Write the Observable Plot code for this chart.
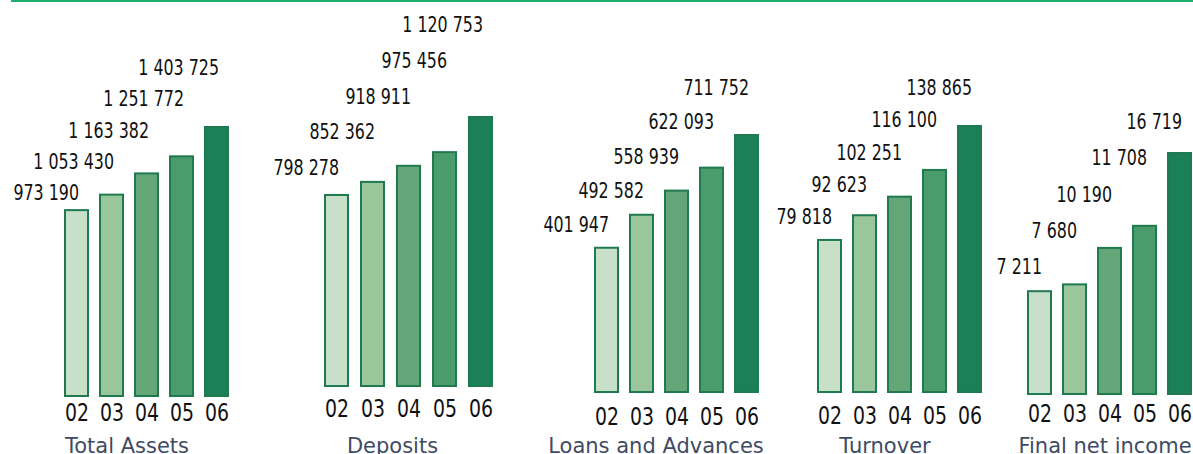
<!DOCTYPE html>
<html><head><meta charset="utf-8">
<script src="https://cdn.jsdelivr.net/npm/d3@7"></script>
<script src="https://cdn.jsdelivr.net/npm/@observablehq/plot@0.6"></script>
<style>
html,body{margin:0;padding:0;background:#fff;overflow:hidden}
#chart{position:relative;width:1193px;height:454px}
#chart svg{position:absolute;left:0;top:0}
#rule{position:absolute;left:11px;top:0;width:1182px;height:2px;background:#1fae6c}
</style></head><body>
<div id="chart"><div id="rule"></div></div>
<script>
const years = ["02","03","04","05","06"];
const titles = ["Total Assets","Deposits","Loans and Advances","Turnover","Final net income"];
const totalAssets = [973190,1053430,1163382,1251772,1403725];
const deposits = [798278,852362,918911,975456,1120753];
const loans = [401947,492582,558939,622093,711752];
const turnover = [79818,92623,102251,116100,138865];
const netIncome = [7211,7680,10190,11708,16719];
const barColors = ["#c8dfc9","#9ac69c","#65a679","#4b9c6c","#1b7f57"];

const series = [totalAssets, deposits, loans, turnover, netIncome];
const layout = [
 {x0:62,x1:231,bottom:397,top:126,lab0:193,lab4:68,tickPad:6,titleDx:-20},
 {x0:324,x1:494,bottom:387,top:116,lab0:168,lab4:25,tickPad:11.5,titleDx:-17},
 {x0:592,x1:761,bottom:393,top:134,lab0:225,lab4:88,tickPad:13.5,titleDx:-21},
 {x0:816,x1:983,bottom:393,top:125,lab0:217,lab4:88,tickPad:13,titleDx:-15},
 {x0:1025,x1:1194,bottom:395,top:152,lab0:267,lab4:122,tickPad:8.5,titleDx:-5}
];
const fmt = d3.formatLocale({decimal:",", thousands:" ", grouping:[3], currency:["",""]}).format(",d");
const W = 1193, H = 454;
const narrow = "'DejaVu Sans Condensed','Liberation Sans Narrow',sans-serif";
const squeeze = 0.84;
const chart = document.getElementById("chart");
series.forEach((vals, k) => {
  const L = layout[k];
  const data = years.map((year, i) => ({year, value: vals[i], label: fmt(vals[i])}));
  const labelMarks = data.map((d, i) => Plot.text([d], {
    x: "year", text: "label", frameAnchor: "top",
    dy: L.lab0 + (L.lab4 - L.lab0) * i / 4, dx: 2,
    textAnchor: "end", lineAnchor: "middle",
    fontSize: 21, fontFamily: narrow, fill: "#111"
  }));
  const svg = Plot.plot({
    width: W, height: H,
    marginLeft: L.x0, marginRight: W - L.x1, marginTop: 0, marginBottom: H - L.bottom,
    style: {background: "transparent", overflow: "visible"},
    x: {type: "band", domain: years, paddingInner: 0.3, paddingOuter: 0, axis: null},
    y: {domain: [0, d3.max(vals)], range: [L.bottom, L.top], axis: null},
    color: {domain: years, range: barColors},
    marks: [
      Plot.barY(data, {x: "year", y: "value", fill: "year", stroke: "#1f7a50", strokeWidth: 2, inset: 1}),
      Plot.axisX({tickSize: 0, tickPadding: L.tickPad, fontSize: 25, fontFamily: narrow, color: "#111", label: null}),
      ...labelMarks,
      Plot.text([titles[k]], {frameAnchor: "bottom", dx: L.titleDx, dy: 452 - L.bottom, lineAnchor: "bottom",
        fontSize: 21, fontFamily: "'DejaVu Sans',Verdana,sans-serif", fill: "#3f4b63"})
    ]
  });
  // condense the digit labels horizontally around their own anchor (titles keep full width)
  svg.querySelectorAll("text").forEach(t => {
    if (titles.includes(t.textContent)) return;
    const tr = t.getAttribute("transform");
    if (tr) t.setAttribute("transform", tr + ` scale(${squeeze},1)`);
    else {
      const x = +t.getAttribute("x") || 0, y = +t.getAttribute("y") || 0;
      t.removeAttribute("x"); t.removeAttribute("y");
      t.setAttribute("transform", `translate(${x},${y}) scale(${squeeze},1)`);
    }
  });
  chart.appendChild(svg);
});
</script></body></html>
